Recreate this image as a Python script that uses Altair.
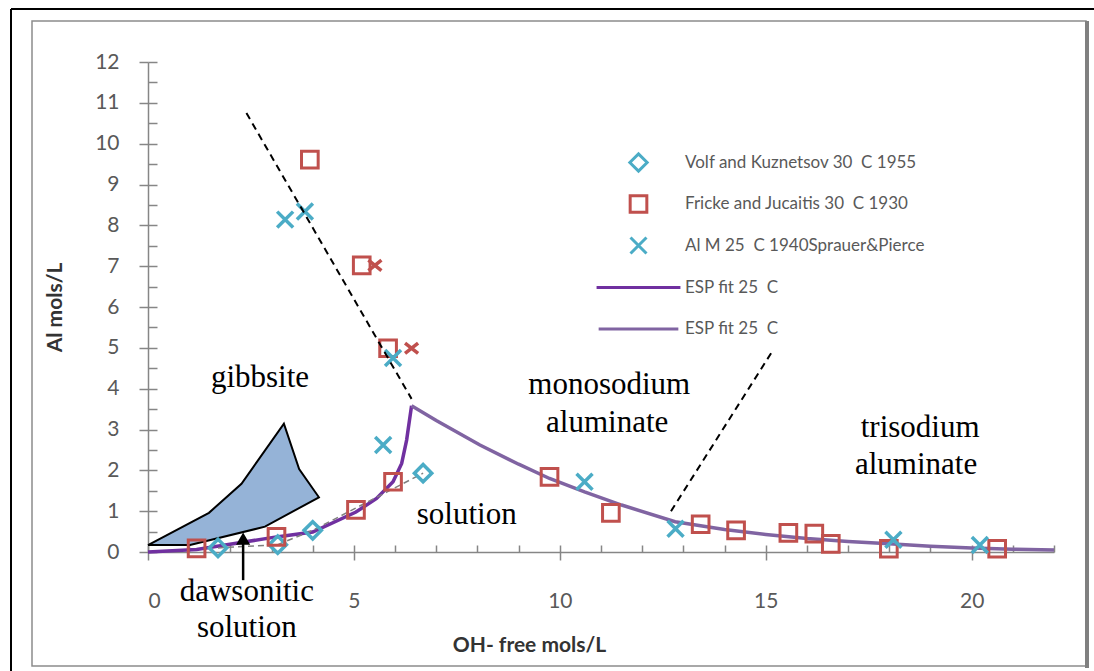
import altair as alt
import pandas as pd

# ---------------- data ----------------
SERIES = ["Volf and Kuznetsov 30\u00a0 C 1955",
          "Fricke and Jucaitis 30\u00a0 C 1930",
          "Al M 25\u00a0 C 1940Sprauer&Pierce",
          "ESP fit 25\u00a0 C",
          "ESP fit 25 \u00a0C"]
SER_COLORS = ["#4BACC6", "#C0504D", "#4BACC6", "#7030A0", "#8064A2"]
SER_SHAPES = ["diamond", "square", "M-1,-1L1,1M-1,1L1,-1", "M-5.5,0L5.5,0", "M-5.5,0L5.5,0"]
SER_SIZES = [300, 210, 380, 200, 200]

volf_x = [1.70, 3.15, 4.00, 6.68]
volf_y = [0.10, 0.18, 0.53, 1.93]

fricke_x = [1.18, 3.12, 3.93, 5.05, 5.19, 5.83, 5.95, 9.75, 11.24, 13.42, 14.28, 15.55, 16.18, 16.58, 17.99, 20.62]
fricke_y = [0.09, 0.37, 9.61, 1.03, 7.02, 4.99, 1.72, 1.84, 0.96, 0.68, 0.53, 0.47, 0.45, 0.20, 0.08, 0.08]

sprauer_x = [3.33, 3.81, 5.71, 5.95, 10.60, 12.81, 18.10, 20.20]
sprauer_y = [8.14, 8.34, 2.62, 4.75, 1.72, 0.57, 0.30, 0.17]

redx_x = [5.51, 6.40]
redx_y = [7.02, 4.99]

esp_rise_x = [0, 1.18, 1.99, 3.12, 4.00, 5.05, 5.55, 5.95, 6.16, 6.28, 6.35, 6.40]
esp_rise_y = [0, 0.06, 0.19, 0.37, 0.49, 0.98, 1.31, 1.72, 2.17, 2.74, 3.23, 3.58]
esp_fall_x = [6.40, 7.0, 8.06, 9.0, 9.75, 10.6, 11.5, 12.8, 14.0, 15.0, 16.0, 17.0, 18.0, 19.0, 20.0, 21.0, 22.0]
esp_fall_y = [3.58, 3.22, 2.62, 2.15, 1.80, 1.47, 1.15, 0.74, 0.55, 0.43, 0.33, 0.26, 0.20, 0.14, 0.10, 0.07, 0.05]

poly_x = [0, 1.48, 2.27, 3.30, 3.67, 4.15, 2.84, 1.02, 0]
poly_y = [0.17, 0.96, 1.67, 3.14, 2.03, 1.34, 0.62, 0.17, 0.17]

gib_x = [2.39, 6.40]
gib_y = [10.75, 3.75]
tri_x = [12.70, 15.15]
tri_y = [1.00, 4.90]

arrow_x = [2.31]
arrow_y0 = [-0.69]
arrow_y1 = [0.30]
arrow_head_y = [0.33]

label_text = ["gibbsite", "monosodium", "aluminate", "solution", "trisodium", "aluminate", "dawsonitic", "solution"]
label_x = [2.72, 11.20, 11.15, 7.74, 18.75, 18.65, 2.40, 2.40]
label_y = [4.26, 4.09, 3.16, 0.91, 3.04, 2.13, -0.98, -1.86]

x_ticks = list(range(0, 23))
y_ticks = [i / 2 for i in range(0, 25)]

# ---------------- chart ----------------
W, H = 906, 490
PL, PT = 148, 62

xs = alt.Scale(domain=[0, 22], nice=False, zero=False)
ys = alt.Scale(domain=[0, 12], nice=False, zero=False)

x_main = alt.Axis(values=[0, 5, 10, 15, 20], grid=False, domainColor="#868686", domainWidth=1.5,
                  tickColor="#868686", tickWidth=1.5, tickSize=8, labelPadding=30,
                  labelFont="Lato", labelFontSize=21, labelColor="#595959",
                  title="OH- free mols/L", titleFont="Lato", titleFontSize=21, titleFontWeight="bold",
                  titleColor="#333333", titleX=381, titleY=93, titleBaseline="middle")
y_main = alt.Axis(values=list(range(0, 13)), grid=False, domainColor="#868686", domainWidth=1.5,
                  tickColor="#868686", tickWidth=1.5, tickSize=9, labelPadding=20,
                  labelFont="Lato", labelFontSize=21, labelColor="#595959",
                  title="Al mols/L", titleFont="Lato", titleFontSize=21, titleFontWeight="bold",
                  titleColor="#333333", titleX=-93, titleY=H / 2, titleBaseline="middle", titleAngle=-90)
x_minor = alt.Axis(orient="top", offset=-H, values=x_ticks, grid=False, domain=False, labels=False,
                   tickColor="#868686", tickWidth=1.5, tickSize=7, title=None)
y_minor = alt.Axis(orient="right", offset=-W, values=y_ticks, grid=False, domain=False, labels=False,
                   tickColor="#868686", tickWidth=1.5, tickSize=9, title=None)

legend = alt.Legend(title=None, orient="none", legendX=480, legendY=90, labelFont="Lato", labelFontSize=17,
                    labelColor="#595959", symbolStrokeWidth=3, symbolFillColor="white", labelOffset=36,
                    labelLimit=0, rowPadding=11, gridAlign="all", direction="vertical", columns=1,
                    symbolSize=200)

color_enc = alt.Color("series:N", scale=alt.Scale(domain=SERIES, range=SER_COLORS), legend=legend)
shape_enc = alt.Shape("series:N", scale=alt.Scale(domain=SERIES, range=SER_SHAPES), legend=legend)
size_enc = alt.Size("series:N", scale=alt.Scale(domain=SERIES, range=SER_SIZES), legend=None)


def X(axis=None):
    return alt.X("x:Q", scale=xs, axis=axis)


def Y(axis=None):
    return alt.Y("y:Q", scale=ys, axis=axis)


def df(x, y, **extra):
    d = pd.DataFrame({"x": x, "y": y})
    for k, v in extra.items():
        d[k] = v
    d["i"] = range(len(d))
    return d


poly = alt.Chart(df(poly_x, poly_y)).mark_line(fill="#95B3D7", stroke="black", strokeWidth=2, clip=False).encode(
    x=X(x_main), y=Y(y_main), order="i:Q")

axes_minor = alt.Chart(df([0], [0])).mark_point(opacity=0).encode(x=X(x_minor), y=Y(y_minor))

esp1 = alt.Chart(df(esp_rise_x, esp_rise_y)).mark_line(color="#7030A0", strokeWidth=3.5).encode(
    x=X(), y=Y(), order="i:Q")
esp2 = alt.Chart(df(esp_fall_x, esp_fall_y)).mark_line(color="#8064A2", strokeWidth=3.5).encode(
    x=X(), y=Y(), order="i:Q")

volf_line = alt.Chart(df(volf_x, volf_y)).mark_line(color="#7f7f7f", strokeWidth=1.5, strokeDash=[6, 4]).encode(
    x=X(), y=Y(), order="i:Q")


def pts(x, y, s, sw):
    return alt.Chart(df(x, y, series=s)).mark_point(filled=False, strokeWidth=sw, opacity=1).encode(
        x=X(), y=Y(), color=color_enc, shape=shape_enc, size=size_enc)


volf_pts = pts(volf_x, volf_y, SERIES[0], 3.5)
fricke_pts = pts(fricke_x, fricke_y, SERIES[1], 3)
sprauer_pts = pts(sprauer_x, sprauer_y, SERIES[2], 3.5)

redx = alt.Chart(df(redx_x, redx_y)).mark_point(shape="M-1,-0.8L1,0.8M-1,0.8L1,-0.8", filled=False,
                                                 color="#C0504D", strokeWidth=3.5, size=170, opacity=1).encode(
    x=X(), y=Y())

gib_line = alt.Chart(df(gib_x, gib_y)).mark_line(color="black", strokeWidth=2, strokeDash=[7, 5]).encode(
    x=X(), y=Y(), order="i:Q")
tri_line = alt.Chart(df(tri_x, tri_y)).mark_line(color="black", strokeWidth=2, strokeDash=[7, 5]).encode(
    x=X(), y=Y(), order="i:Q")

arrow_df = pd.DataFrame({"x": arrow_x, "y": arrow_y0, "y2": arrow_y1, "yh": arrow_head_y})
arrow = alt.Chart(arrow_df).mark_rule(color="black", strokeWidth=2.5, clip=False).encode(
    x=X(), y=Y(), y2="y2:Q")
arrow_head = alt.Chart(arrow_df).mark_point(shape="triangle-up", filled=True, color="black", size=200,
                                            opacity=1, clip=False).encode(
    x=X(), y=alt.Y("yh:Q", scale=ys, axis=None))

labels = alt.Chart(pd.DataFrame({"x": label_x, "y": label_y, "t": label_text})).mark_text(
    font="Liberation Serif", fontSize=31, color="black", align="center", baseline="middle", clip=False).encode(
    x=X(), y=Y(), text="t:N")

one = pd.DataFrame({"a": [0]})
frame_gray = alt.Chart(one).mark_rect(fill="white", fillOpacity=0, stroke="#8c8c8c", strokeWidth=1.5).encode(
    x=alt.value(32 - PL), x2=alt.value(1086 - PL), y=alt.value(21 - PT), y2=alt.value(666 - PT))
frame_gray_r = alt.Chart(one).mark_rule(color="#808080", strokeWidth=4).encode(
    x=alt.value(1087 - PL), y=alt.value(21 - PT), y2=alt.value(668 - PT))
frame_black_l = alt.Chart(one).mark_rule(color="black", strokeWidth=2).encode(
    x=alt.value(11 - PL), y=alt.value(9 - PT), y2=alt.value(671 - PT))
frame_black_t = alt.Chart(one).mark_rule(color="black", strokeWidth=2).encode(
    x=alt.value(11 - PL), x2=alt.value(1094 - PL), y=alt.value(9 - PT))

chart = alt.layer(
    poly, axes_minor, esp1, esp2, volf_line, volf_pts, fricke_pts, sprauer_pts, redx,
    gib_line, tri_line, arrow, arrow_head, labels,
    frame_gray, frame_gray_r, frame_black_l, frame_black_t
).resolve_axis(x="independent", y="independent").properties(
    width=W, height=H,
    padding={"left": PL, "top": PT, "right": 1094 - PL - W, "bottom": 671 - PT - H},
    autosize=alt.AutoSizeParams(type="none"),
    background="white",
).configure_view(stroke=None)

chart.save("out.html", embed_options={"renderer": "svg", "actions": False})
